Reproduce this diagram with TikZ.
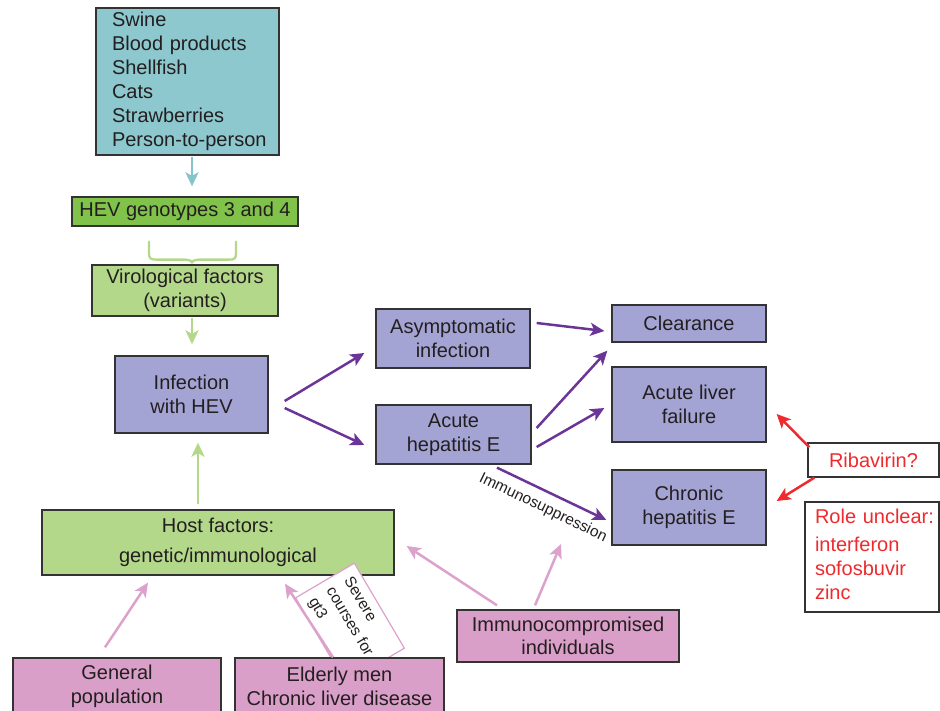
\documentclass[tikz,border=0pt]{standalone}
\usepackage{fontspec}
\setmainfont{Liberation Sans}
\usetikzlibrary{arrows.meta}
\definecolor{cTeal}{HTML}{8DC8CF}
\definecolor{cTealA}{HTML}{86C4CC}
\definecolor{cGreen}{HTML}{80C24A}
\definecolor{cLGreen}{HTML}{B3D88A}
\definecolor{cPurp}{HTML}{A4A4D4}
\definecolor{cPArrow}{HTML}{6B3598}
\definecolor{cPink}{HTML}{DA9FC8}
\definecolor{cPinkA}{HTML}{DCA2CC}
\definecolor{cRed}{HTML}{EE2A2E}
\definecolor{cText}{HTML}{231F20}
\definecolor{cBorder}{HTML}{333333}
\begin{document}
\begin{tikzpicture}[x=1pt,y=-1pt,
  font=\fontsize{20}{24}\selectfont,
  box/.style={draw=cBorder, line width=1.3pt, text=cText, align=center, inner sep=0pt},
  tip/.style={-{Stealth[length=14pt,width=13pt,inset=3.5pt]}, line width=2.5pt},
  tarrow/.style={tip, draw=cTealA},
  garrow/.style={tip, draw=cLGreen},
  parrow/.style={tip, draw=cPArrow},
  pkarrow/.style={tip, draw=cPinkA},
  rarrow/.style={tip, draw=cRed},
]
\useasboundingbox (0,0) rectangle (940,711);

% top source box
\node[box, fill=cTeal, align=left, text width=183pt, inner xsep=0pt,
      minimum width=183pt, minimum height=147pt] (src) at (187.5,81.5)
  {\hspace*{16pt}\raisebox{-3pt}{\begin{tabular}{@{}l@{}}Swine\\Blood products\\Shellfish\\Cats\\Strawberries\\Person-to-person\end{tabular}}};
\node[box, fill=cGreen, minimum width=226pt, minimum height=29pt] (hev) at (185,211.5) {HEV genotypes 3 and 4};
\node[box, fill=cLGreen, minimum width=186pt, minimum height=51pt] (vir) at (185,290.5) {Virological factors\\(variants)};
\node[box, fill=cPurp, minimum width=153pt, minimum height=77pt] (inf) at (191.5,394.5) {Infection\\with HEV};
\node[box, fill=cLGreen, minimum width=352pt, minimum height=65pt,
      font=\fontsize{20}{30}\selectfont] (host) at (218,542.5) {Host factors:\\genetic/immunological};

\node[box, fill=cPurp, minimum width=154pt, minimum height=59pt] (asym) at (453,338.5) {Asymptomatic\\infection};
\node[box, fill=cPurp, minimum width=155pt, minimum height=59pt] (acute) at (453.5,434.5) {Acute\\hepatitis E};
\node[box, fill=cPurp, minimum width=154pt, minimum height=37pt] (clear) at (689,323.5) {Clearance};
\node[box, fill=cPurp, minimum width=154pt, minimum height=75pt] (alf) at (689,404.5) {Acute liver\\failure};
\node[box, fill=cPurp, minimum width=154pt, minimum height=75pt] (chronic) at (689,507.5) {Chronic\\hepatitis E};

\node[box, fill=white, text=cRed, minimum width=131pt, minimum height=34pt] (riba) at (873.5,460) {Ribavirin?};
\node[box, fill=white, text=cRed, align=left, text width=124pt, inner xsep=5pt,
      minimum height=110pt] (role) at (872,557)
  {\hspace*{5pt}\raisebox{-3pt}{\begin{tabular}{@{}l@{}}Role unclear:\\[4pt]interferon\\sofosbuvir\\zinc\end{tabular}}};

% rotated note (behind the elderly box)
\node[draw=cPinkA, line width=1.2pt, fill=white, text=cText, align=left,
      text width=90pt, inner xsep=4.3pt, minimum height=65pt, rotate=-59.5,
      font=\fontsize{15.5}{20.5}\selectfont] (sev) at (350,623)
  {\hspace*{5pt}\begin{tabular}{@{}l@{}}Severe\\courses for\\gt3\end{tabular}};

\node[box, fill=cPink, minimum width=208pt, minimum height=56pt] (gen) at (117,686) {General\\population};
\node[box, fill=cPink, minimum width=209pt, minimum height=56pt] (eld) at (339.5,686) {Elderly men\\Chronic liver disease};
\node[box, fill=cPink, minimum width=222pt, minimum height=52pt, font=\fontsize{20}{23}\selectfont] (imm) at (568,636) {Immunocompromised\\individuals};

% top arrows
\draw[tarrow] ([shift={(4.5,1)}]src.south) -- ([shift={(7,-10)}]hev.north);
\draw[cLGreen, line width=2.3pt, line cap=round]
  ([shift={(-36,15)}]hev.south) -- ([shift={(-36,27)}]hev.south)
  .. controls ([shift={(-36,32)}]hev.south) and ([shift={(-34,33)}]hev.south) .. ([shift={(-28,33)}]hev.south)
  -- ([shift={(0,33)}]hev.south)
  .. controls ([shift={(5,33)}]hev.south) and ([shift={(7,35)}]hev.south) .. ([shift={(7,-2)}]vir.north)
  .. controls ([shift={(7,35)}]hev.south) and ([shift={(9,33)}]hev.south) .. ([shift={(14,33)}]hev.south)
  -- ([shift={(44,33)}]hev.south)
  .. controls ([shift={(49,33)}]hev.south) and ([shift={(51,32)}]hev.south) .. ([shift={(51,27)}]hev.south)
  -- ([shift={(51,15)}]hev.south);
\draw[garrow] ([shift={(7,1)}]vir.south) -- ([shift={(0.5,-11)}]inf.north);
\draw[garrow] ([shift={(-20,-5)}]host.north) -- ([shift={(6.5,9)}]inf.south);

% purple arrows
\draw[parrow] ([shift={(16,6.5)}]inf.east) -- ([shift={(-11,14.5)}]asym.west);
\draw[parrow] ([shift={(16,13.5)}]inf.east) -- ([shift={(-11,10.5)}]acute.west);
\draw[parrow] ([shift={(6,-15.5)}]asym.east) -- ([shift={(-7,7.5)}]clear.west);
\draw[parrow] ([shift={(5,-6.5)}]acute.east) -- ([shift={(-4,8)}]clear.south west);
\draw[parrow] ([shift={(5,12.5)}]acute.east) -- ([shift={(-7,3.5)}]alf.west);
\draw[parrow] ([shift={(43.5,3)}]acute.south) -- ([shift={(-5,12.5)}]chronic.west);
\node[text=cText, rotate=-25.7, inner sep=0pt, font=\fontsize{15.5}{18}\selectfont] (immsup) at (543,508) {Immunosuppression};

% red arrows
\draw[rarrow] ([shift={(2,5)}]riba.north west) -- ([shift={(10,9.5)}]alf.east);
\draw[rarrow] ([shift={(7,0)}]riba.south west) -- ([shift={(10,-6.5)}]chronic.east);

% pink arrows
\coordinate (immtip) at (561,544);
\draw[pkarrow] ([shift={(-12,-10)}]gen.north) -- ([shift={(-70,7)}]host.south);
\draw[pkarrow] ([shift={(-6.5,0)}]eld.north) -- ([shift={(67,8)}]host.south);
\draw[pkarrow] ([shift={(-71,-4)}]imm.north) -- ([shift={(12,3.5)}]host.east);
\draw[pkarrow] ([shift={(-33,-4)}]imm.north) -- (immtip);
\end{tikzpicture}
\end{document}
